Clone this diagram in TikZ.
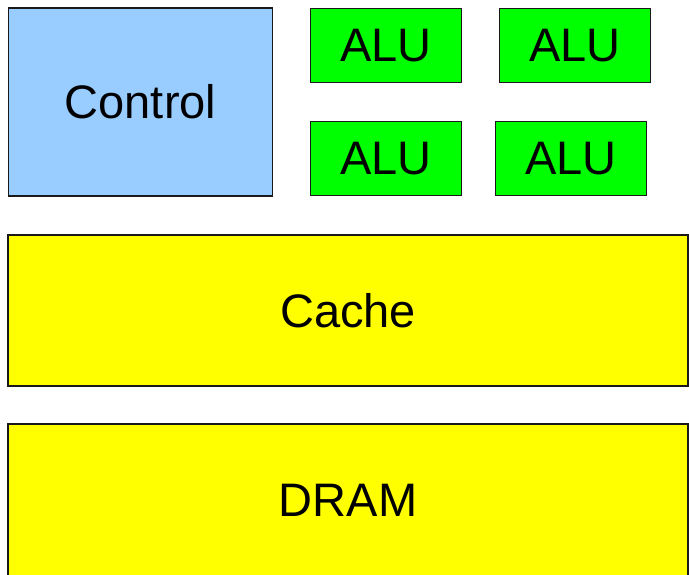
\documentclass[tikz,border=0pt]{standalone}
\usepackage{fontspec}
\setmainfont{Liberation Sans}
\definecolor{ctrlblue}{HTML}{99CCFF}
\definecolor{alugreen}{HTML}{00FF00}
\definecolor{memyellow}{HTML}{FFFF00}
\tikzset{
  blk/.style={draw=black!90, line width=1.5pt, rectangle, inner sep=0pt, outer sep=0pt, font=\fontsize{47}{50}\selectfont},
  ctrl/.style={blk, fill=ctrlblue},
  alu/.style={blk, fill=alugreen, minimum width=151pt, minimum height=74pt},
  mem/.style={blk, fill=memyellow, minimum width=680pt}
}
\begin{document}
\begin{tikzpicture}[x=1pt,y=-1pt]
\useasboundingbox (0,0) rectangle (689,574);
\node[ctrl, minimum width=264pt, minimum height=188pt] (control) at (140.5,102) {Control};
\node[alu] (alu1) at (386,45.5) {ALU};
\node[alu] (alu2) at (575,45.5) {ALU};
\node[alu] (alu3) at (386,158.5) {ALU};
\node[alu] (alu4) at (571,158.5) {ALU};
\node[mem, minimum height=151pt] (cache) at (348,310.5) {Cache};
\node[mem, minimum height=153pt] (dram) at (348,500.5) {DRAM};
\end{tikzpicture}
\end{document}
